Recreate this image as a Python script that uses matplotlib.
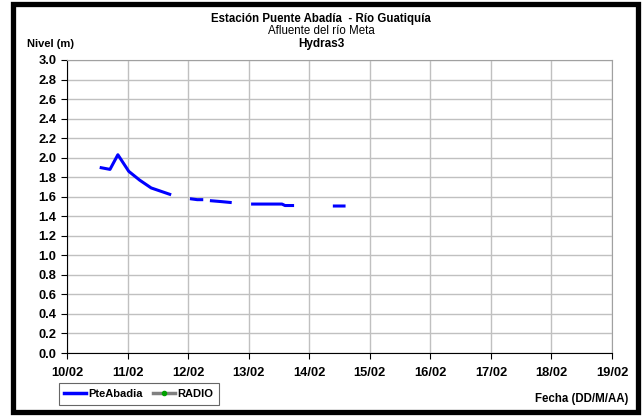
import numpy as np
import matplotlib
matplotlib.use("Agg")
import matplotlib.pyplot as plt
from matplotlib.patches import Rectangle
from matplotlib.lines import Line2D

plt.rcParams['font.family'] = ['Liberation Sans', 'DejaVu Sans']

# dias desde 10/02 (NaN = hueco en el registro)
dias = [0.54, 0.71, 0.84, 1.02, 1.20, 1.39, 1.72, np.nan,
        2.03, 2.15, 2.25, np.nan,
        2.36, 2.55, 2.72, np.nan,
        3.04, 3.55, 3.60, 3.75, np.nan,
        4.39, 4.60]
nivel = [1.90, 1.88, 2.03, 1.86, 1.77, 1.69, 1.62, np.nan,
         1.58, 1.57, 1.57, np.nan,
         1.56, 1.55, 1.54, np.nan,
         1.525, 1.525, 1.51, 1.51, np.nan,
         1.505, 1.505]
etiquetas_x = ['10/02', '11/02', '12/02', '13/02', '14/02',
               '15/02', '16/02', '17/02', '18/02', '19/02']

fig = plt.figure(figsize=(6.42, 4.16), dpi=100)
ax = fig.add_axes([67/642, 1 - 353/416, (612 - 67)/642, (353 - 60)/416])

ax.plot(dias, nivel, color='#0000ff', lw=2.2, solid_capstyle='butt')

ax.set_xlim(0, 9)
ax.set_ylim(0, 3.0)
ax.set_xticks(range(10))
ax.set_xticklabels(etiquetas_x)
ax.set_yticks(np.arange(0, 3.01, 0.2))
ax.set_yticklabels(['%.1f' % v for v in np.arange(0, 3.01, 0.2)])
ax.grid(True, color='#c0c0c0', lw=1)
ax.set_axisbelow(True)
for s in ['top', 'right']:
    ax.spines[s].set_color('#a0a0a0')
for s in ['left', 'bottom']:
    ax.spines[s].set_color('black')
ax.tick_params(axis='both', labelsize=9.3, length=4, width=0.8, direction='out')
for t in ax.get_xticklabels() + ax.get_yticklabels():
    t.set_fontweight('bold')
ax.tick_params(axis='x', pad=6)

# Titulos
fig.text(0.5, 1 - 19/416, 'Estación Puente Abadía  - Río Guatiquía', ha='center', va='center',
         fontsize=8.3, fontweight='bold')
fig.text(0.5, 1 - 31/416, 'Afluente del río Meta', ha='center', va='center', fontsize=8.3)
fig.text(0.5, 1 - 44/416, 'Hydras3', ha='center', va='center', fontsize=8.5, fontweight='bold')
fig.text(27/642, 1 - 44/416, 'Nivel (m)', ha='left', va='center', fontsize=8, fontweight='bold')
fig.text(628/642, 1 - 399/416, 'Fecha (DD/M/AA)', ha='right', va='center', fontsize=8.3,
         fontweight='bold')

# Leyenda
handles = [Line2D([], [], color='#0000ff', lw=2.5),
           Line2D([], [], color='#808080', lw=2.5, marker='o', markersize=3,
                  markerfacecolor='#00a000', markeredgecolor='#00a000')]
leg = fig.legend(handles, ['PteAbadia', 'RADIO'], loc='center left',
                 bbox_to_anchor=(53/642, 1 - 394/416), ncol=2, frameon=True, fancybox=False,
                 prop={'size': 8, 'weight': 'bold'}, handlelength=2.0, handletextpad=0.2,
                 columnspacing=0.9, borderpad=0.5)
leg.get_frame().set_edgecolor('#404040')
leg.get_frame().set_linewidth(0.8)

# Marco negro exterior
fig.patches.append(Rectangle((12.5/642, 4/416), (638 - 12.5)/642, (412 - 4)/416,
                             transform=fig.transFigure, fill=False, ec='black', lw=3.8))

fig.savefig('out.png', dpi=100)
